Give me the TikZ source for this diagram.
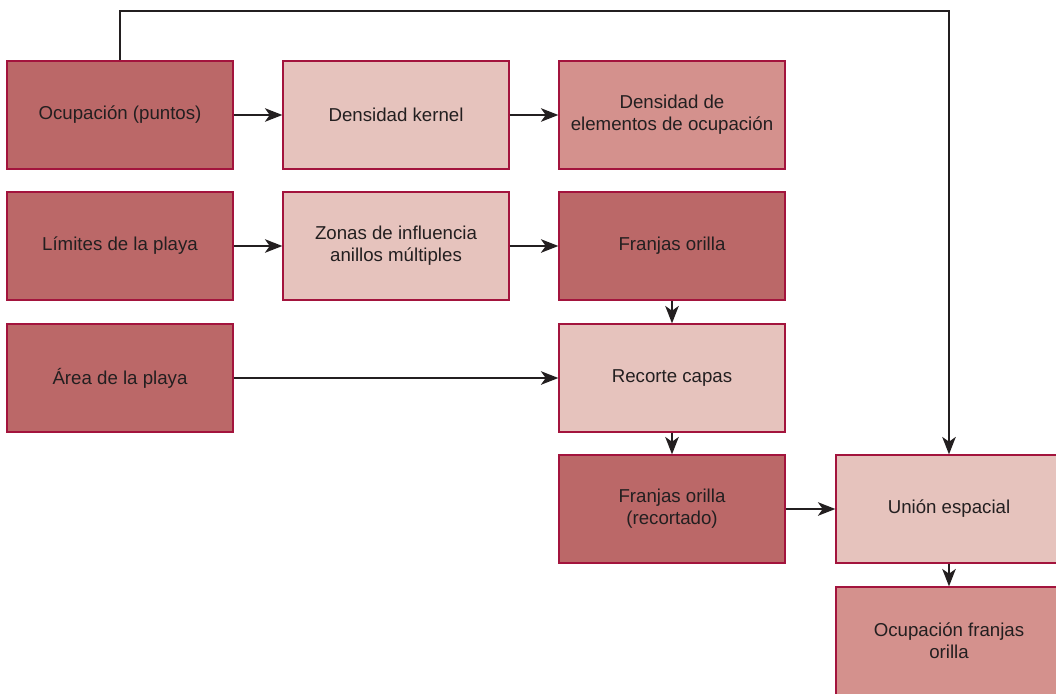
\documentclass[tikz,border=0pt]{standalone}
\usepackage{fontspec}
\setmainfont{Liberation Sans}
\usetikzlibrary{arrows.meta}
\definecolor{dark}{HTML}{BB6868}
\definecolor{light}{HTML}{E6C3BD}
\definecolor{mid}{HTML}{D4918D}
\definecolor{edge}{HTML}{A3143D}
\definecolor{ink}{HTML}{231F20}
\tikzset{
  box/.style={draw=edge, line width=0.9pt, minimum width=169.5pt, minimum height=81pt,
    align=center, text=ink, font=\fontsize{14}{16.5}\selectfont, inner sep=0pt},
  darkbox/.style={box, fill=dark},
  lightbox/.style={box, fill=light},
  midbox/.style={box, fill=mid},
  conn/.style={draw=ink, line width=2.1pt, -{Stealth[length=13pt,width=10pt,inset=3.5pt]}},
}
\begin{document}
\begin{tikzpicture}[x=0.75pt,y=-0.75pt]
\useasboundingbox (0,0) rectangle (1056,693);
\node[darkbox]  (ocu)  at (120,115) {Ocupación (puntos)};
\node[lightbox] (dk)   at (396,115) {Densidad kernel};
\node[midbox]   (den)  at (672,115) {Densidad de\\elementos de ocupación};
\node[darkbox]  (lim)  at (120,246) {Límites de la playa};
\node[lightbox] (zon)  at (396,246) {Zonas de influencia\\anillos múltiples};
\node[darkbox]  (fra)  at (672,246) {Franjas orilla};
\node[darkbox]  (are)  at (120,378) {Área de la playa};
\node[lightbox] (rec)  at (672,378) {Recorte capas};
\node[darkbox]  (frr)  at (672,509) {Franjas orilla\\(recortado)};
\node[lightbox] (uni)  at (949,509) {Unión espacial};
\node[midbox]   (ofo)  at (949,641) {Ocupación franjas\\orilla};
\coordinate (c1) at (120,11);
\coordinate (c2) at (949,11);
\draw[conn] (ocu) -- (dk);
\draw[conn] (dk) -- (den);
\draw[conn] (lim) -- (zon);
\draw[conn] (zon) -- (fra);
\draw[conn] (fra) -- (rec);
\draw[conn] (are) -- (rec);
\draw[conn] (rec) -- (frr);
\draw[conn] (frr) -- (uni);
\draw[conn] (uni) -- (ofo);
\draw[conn] (ocu.north) -- (c1) -- (c2) -- (uni.north);
\end{tikzpicture}
\end{document}
